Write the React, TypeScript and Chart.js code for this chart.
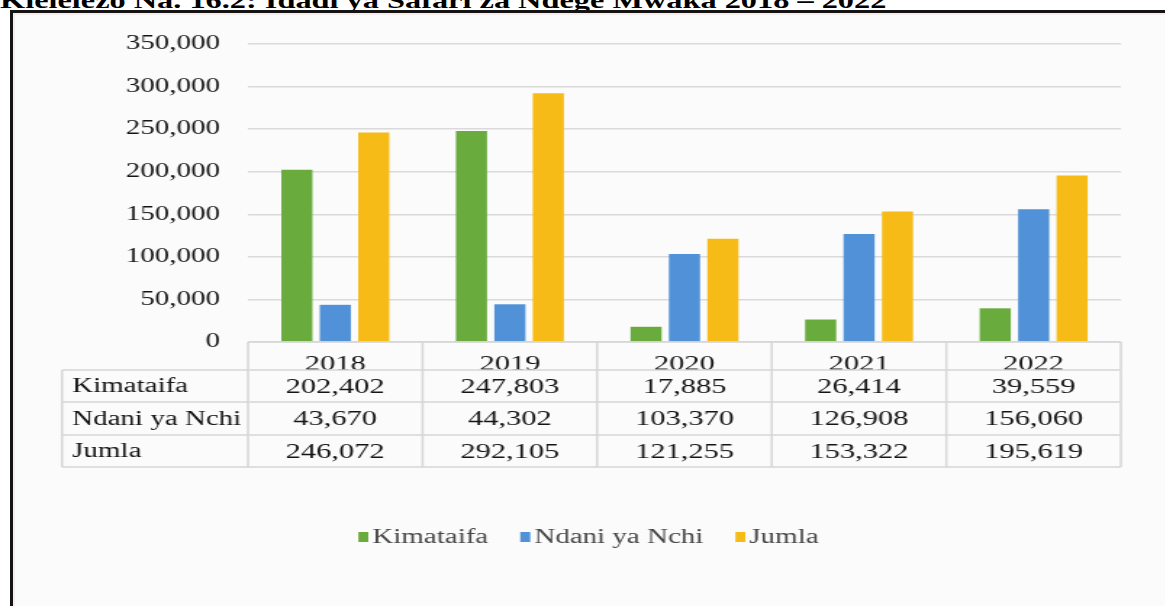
import { useEffect, useRef } from "react";
import { Chart, registerables } from "chart.js";

Chart.register(...registerables);

// Flight counts per year
const years = ["2018", "2019", "2020", "2021", "2022"];
const kimataifa = [202402, 247803, 17885, 26414, 39559];
const ndaniYaNchi = [43670, 44302, 103370, 126908, 156060];
const jumla = [246072, 292105, 121255, 153322, 195619];
const seriesNames = ["Kimataifa", "Ndani ya Nchi", "Jumla"];
const seriesColors = ["#6aab3e", "#5091d8", "#f6bb16"];
const yMax = 350000;
const yStep = 50000;
const title = "Kielelezo Na. 16.2: Idadi ya Safari za Ndege Mwaka 2018 – 2022";

// The figure is rendered narrow and widened horizontally
const STRETCH = 1.45;
const PAGE_W = 1165;
const PAGE_H = 606;
const CANVAS_W = PAGE_W / STRETCH;

const SERIF = "'Liberation Serif', 'Times New Roman', 'DejaVu Serif', serif";
const TEXT = "#141414";
const fmt = (v: number) => v.toLocaleString("en-US");

// Row geometry of the data table, measured down from the x axis
const ROW_LINES = [0, 28, 60, 93, 125];
const LABEL_LEFT = 62 / STRETCH;

const tablePlugin = {
  id: "dataTable",
  afterDraw(chart: any) {
    const { ctx, chartArea, scales } = chart;
    const xs = scales.x;
    const n = years.length;
    const catW = (chartArea.right - chartArea.left) / n;
    const top = chartArea.bottom;
    const ys = ROW_LINES.map((d) => top + d);

    ctx.save();
    ctx.strokeStyle = "#d6d6d6";
    ctx.lineWidth = 1.5;
    ctx.beginPath();
    // horizontal rules
    ctx.moveTo(chartArea.left, ys[0]);
    ctx.lineTo(chartArea.right, ys[0]);
    for (let i = 1; i < ys.length; i++) {
      ctx.moveTo(LABEL_LEFT, ys[i]);
      ctx.lineTo(chartArea.right, ys[i]);
    }
    // vertical rules
    for (let k = 0; k <= n; k++) {
      const x = chartArea.left + k * catW;
      ctx.moveTo(x, ys[0]);
      ctx.lineTo(x, ys[ys.length - 1]);
    }
    ctx.moveTo(LABEL_LEFT, ys[1]);
    ctx.lineTo(LABEL_LEFT, ys[ys.length - 1]);
    ctx.stroke();

    // table text
    const rows = chart.data.datasets;
    ctx.fillStyle = TEXT;
    ctx.textBaseline = "middle";
    rows.forEach((ds: any, r: number) => {
      const cy = (ys[r + 1] + ys[r + 2]) / 2 + 1;
      ctx.font = `20px ${SERIF}`;
      ctx.textAlign = "left";
      ctx.fillText(ds.label, LABEL_LEFT + 7, cy);
      ctx.font = `21px ${SERIF}`;
      ctx.textAlign = "center";
      ds.data.forEach((v: number, i: number) => {
        ctx.fillText(fmt(v), xs.getPixelForValue(i), cy);
      });
    });

    // legend
    const legendY = 537;
    const boxW = 10 / STRETCH;
    const boxH = 10;
    const gapText = 4 / STRETCH;
    const gapItem = 32 / STRETCH;
    ctx.font = `20px ${SERIF}`;
    const widths = rows.map((ds: any) => boxW + gapText + ctx.measureText(ds.label).width);
    const total = widths.reduce((a: number, b: number) => a + b, 0) + gapItem * (rows.length - 1);
    let lx = chart.width / 2 + 6 / STRETCH - total / 2;
    ctx.textAlign = "left";
    rows.forEach((ds: any, i: number) => {
      ctx.fillStyle = ds.backgroundColor;
      ctx.fillRect(lx, legendY - boxH / 2, boxW, boxH);
      ctx.fillStyle = "#474747";
      ctx.fillText(ds.label, lx + boxW + gapText, legendY + 1);
      lx += widths[i] + gapItem;
    });
    ctx.restore();
  },
};

function FlightsChart() {
  const ref = useRef<HTMLCanvasElement>(null);
  useEffect(() => {
    if (!ref.current) return;
    const chart = new Chart(ref.current, {
      type: "bar",
      data: {
        labels: years,
        datasets: [kimataifa, ndaniYaNchi, jumla].map((data, i) => ({
          label: seriesNames[i],
          data,
          backgroundColor: seriesColors[i],
          borderWidth: 0,
          categoryPercentage: 0.66,
          barPercentage: 0.81,
        })),
      },
      options: {
        animation: false,
        responsive: true,
        maintainAspectRatio: false,
        layout: {
          padding: { left: 0, right: CANVAS_W - 1121 / STRETCH, top: 44, bottom: PAGE_H - 342 - 130 },
        },
        plugins: { legend: { display: false }, tooltip: { enabled: false } },
        scales: {
          x: {
            grid: { display: false },
            border: { display: false },
            ticks: { font: { family: SERIF, size: 21 }, color: TEXT, padding: 2 },
            afterFit(scale: any) {
              scale.height = 130;
            },
          },
          y: {
            min: 0,
            max: yMax,
            ticks: {
              stepSize: yStep,
              callback: (v: any) => fmt(Number(v)),
              font: { family: SERIF, size: 20 },
              color: TEXT,
              padding: 28 / STRETCH,
            },
            grid: { drawTicks: false, color: "#dadada", lineWidth: 1.5 },
            border: { display: false },
            afterFit(scale: any) {
              scale.width = 248 / STRETCH;
            },
          },
        },
      },
      plugins: [tablePlugin],
    });
    return () => chart.destroy();
  }, []);
  return <canvas ref={ref} style={{ display: "block" }} />;
}

export default function App() {
  return (
    <div
      style={{
        position: "fixed",
        left: 0,
        top: 0,
        width: PAGE_W,
        height: PAGE_H,
        overflow: "hidden",
        background: "#ffffff",
      }}
    >
      <div
        style={{
          position: "absolute",
          left: 0,
          top: -10,
          fontFamily: SERIF,
          fontWeight: "bold",
          fontSize: 22.3,
          lineHeight: "22px",
          whiteSpace: "nowrap",
          color: "#000",
          transform: `scaleX(${STRETCH})`,
          transformOrigin: "left top",
        }}
      >
        {title}
      </div>
      <div
        style={{
          position: "absolute",
          left: 10,
          top: 10,
          width: PAGE_W,
          height: PAGE_H,
          borderLeft: "3px solid #141414",
          borderTop: "3px solid #141414",
          background: "#fbfbfb",
          boxShadow: "inset 2px 2px 0 #f5ecec",
        }}
      />
      <div
        style={{
          position: "absolute",
          left: 0,
          top: 0,
          width: CANVAS_W,
          height: PAGE_H,
          transform: `scaleX(${STRETCH})`,
          transformOrigin: "left top",
        }}
      >
        <FlightsChart />
      </div>
    </div>
  );
}
